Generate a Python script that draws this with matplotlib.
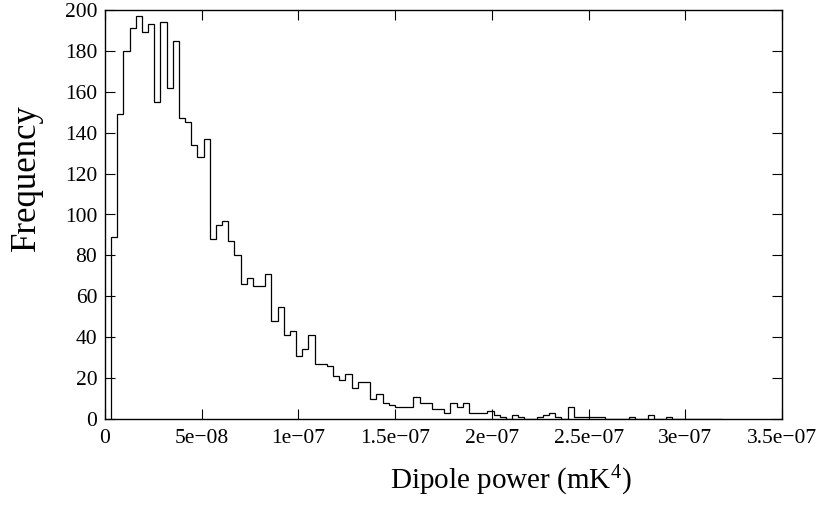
"""Histogram of dipole power, step outline, Times-like fonts."""
import matplotlib
matplotlib.use("Agg")
import matplotlib.pyplot as plt
import numpy as np

# bin counts (99 equal bins)
counts = [
    89, 149, 180, 191, 197, 189, 193, 155, 194, 162,
    185, 147, 145, 134, 128, 137, 88, 95, 97, 87,
    80, 66, 69, 65, 65, 71, 48, 55, 41, 43,
    31, 34, 41, 27, 27, 26, 21, 19, 22, 15,
    18, 18, 10, 12, 8, 7, 6, 6, 6, 11,
    8, 8, 5, 5, 3, 8, 6, 8, 3, 3,
    3, 4, 2, 1, 0, 2, 1, 0, 0, 1,
    2, 3, 1, 0, 6, 1, 1, 1, 1, 1,
    0, 0, 0, 0, 1, 0, 0, 2, 0, 0,
    1, 0, 0, 0, 0, 0, 0, 0, 0,
]
bin_start = 3.15e-9
bin_width = 3.189e-9

xticks = [0, 5e-8, 1e-7, 1.5e-7, 2e-7, 2.5e-7, 3e-7, 3.5e-7]
xtick_labels = ["0", "5e\u221208", "1e\u221207", "1.5e\u221207", "2e\u221207",
                "2.5e\u221207", "3e\u221207", "3.5e\u221207"]
yticks = [0, 20, 40, 60, 80, 100, 120, 140, 160, 180, 200]

plt.rcParams["font.family"] = ["Liberation Serif", "DejaVu Serif"]
plt.rcParams["mathtext.default"] = "regular"

edges = bin_start + bin_width * np.arange(len(counts) + 1)

fig = plt.figure(figsize=(8.22, 5.11), dpi=100)
ax = fig.add_axes([105 / 822, 1 - 419 / 511, (782 - 105) / 822, (419 - 10) / 511])
ax.stairs(counts, edges, color="black", linewidth=0.9)

ax.set_xlim(0, 3.5e-7)
ax.set_ylim(0, 200)
ax.set_xticks(xticks)
ax.set_xticklabels(xtick_labels)
ax.set_yticks(yticks)
ax.tick_params(direction="in", top=True, right=True, length=7, width=0.8,
               labelsize=15.5)
ax.tick_params(axis="x", pad=7)
ax.tick_params(axis="y", pad=5.5)
for spine in ax.spines.values():
    spine.set_linewidth(1.0)

fig.text(511 / 822, 1 - 489 / 511, "Dipole power (mK$^{4}$)", fontsize=21,
         ha="center", va="baseline")
fig.text(26 / 822, 1 - 177.5 / 511, "Frequency", fontsize=25, rotation=90,
         ha="center", va="center")

fig.savefig("out.png", dpi=100)
